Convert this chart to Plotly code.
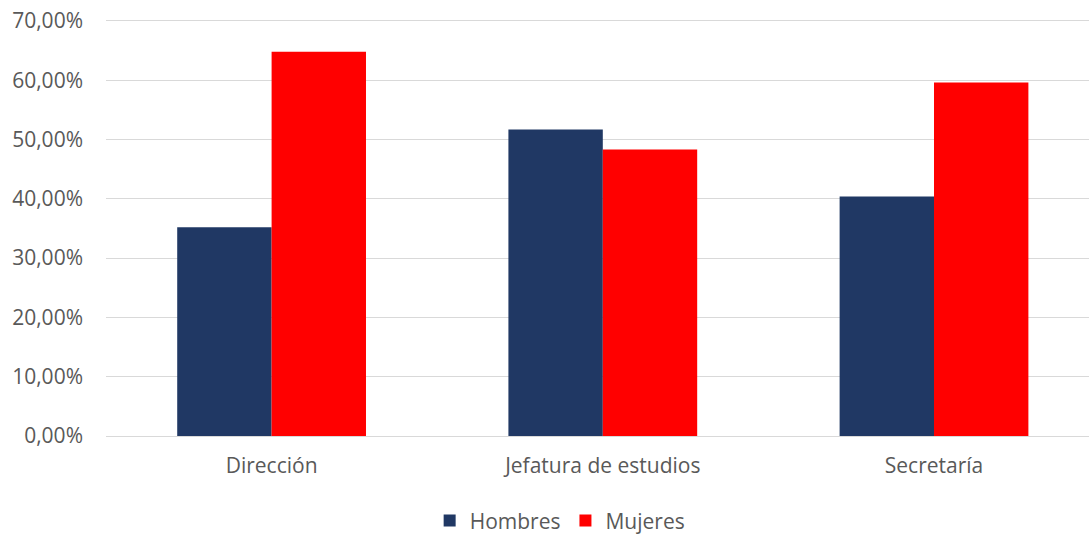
import plotly.graph_objects as go

categories = ["Dirección", "Jefatura de estudios", "Secretaría"]
hombres = [0.352, 0.517, 0.404]
mujeres = [0.648, 0.483, 0.596]
y_ticks = [0, 0.1, 0.2, 0.3, 0.4, 0.5, 0.6, 0.7]

font_family = "Open Sans, Lato, sans-serif"
gray = "#595959"
fs = 21

fig = go.Figure()
fig.add_trace(go.Bar(name="Hombres", x=categories, y=hombres,
                     marker=dict(color="#203864", line=dict(width=0))))
fig.add_trace(go.Bar(name="Mujeres", x=categories, y=mujeres,
                     marker=dict(color="#FF0000", line=dict(width=0))))

fig.update_layout(
    width=1089, height=534,
    margin=dict(l=106, r=0, t=14.6, b=97.5),
    paper_bgcolor="white", plot_bgcolor="white",
    barmode="group", bargap=0.43, bargroupgap=0,
    separators=",.",
    font=dict(family=font_family, size=fs, color=gray),
    showlegend=True,
    legend=dict(orientation="h", xanchor="center", x=0.462,
                yref="container", yanchor="middle", y=0.0245,
                font=dict(size=fs, color=gray), itemwidth=30,
                traceorder="normal"),
    xaxis=dict(range=[-0.5, 2.468], showgrid=False, showline=False,
               ticks="", tickfont=dict(size=fs, color=gray), ticklabelstandoff=15),
    yaxis=dict(range=[0, 0.71], tickvals=y_ticks, tickformat=".2%",
               showgrid=True, gridcolor="#d9d9d9", gridwidth=1,
               zeroline=True, zerolinecolor="#d9d9d9", zerolinewidth=1,
               showline=False, ticks="", ticklabelstandoff=22,
               tickfont=dict(size=fs, color=gray)),
)

fig.write_html("out.html", config={"displayModeBar": False},
               post_script="document.body.style.margin='0px';")
